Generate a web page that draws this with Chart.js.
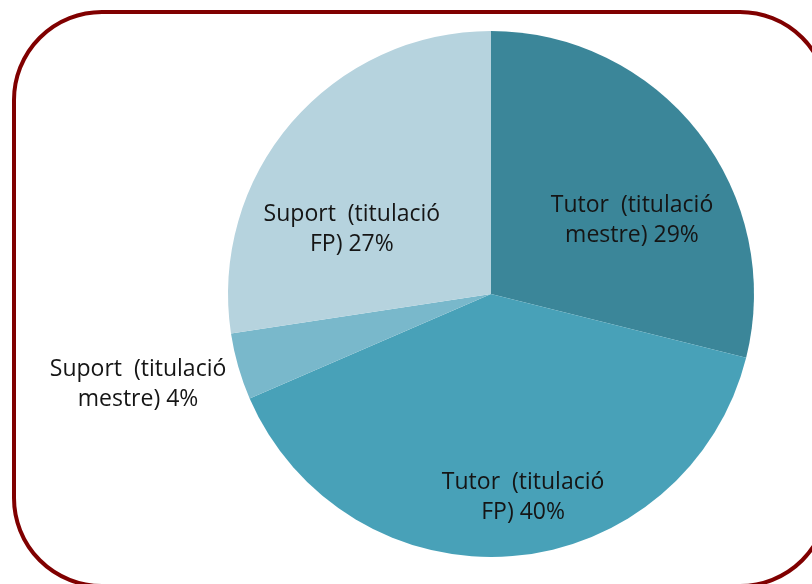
<!DOCTYPE html>
<html>
<head>
<meta charset="utf-8">
<script src="https://cdn.jsdelivr.net/npm/chart.js@4"></script>
<style>
  html, body { margin: 0; padding: 0; background: #fff; }
  #wrap { width: 812px; height: 584px; }
</style>
</head>
<body>
<div id="wrap"><canvas id="pie" width="812" height="584"></canvas></div>
<script>
// data (clockwise from 12 o'clock)
const categories = ['Tutor  (titulació mestre)', 'Tutor  (titulació FP)', 'Suport  (titulació mestre)', 'Suport  (titulació FP)'];
const labelLines = [
  ['Tutor  (titulació', 'mestre) 29%'],
  ['Tutor  (titulació', 'FP) 40%'],
  ['Suport  (titulació', 'mestre) 4%'],
  ['Suport  (titulació', 'FP) 27%']
];
const shares = [28.9, 39.6, 4.1, 27.4];
const colors = ['#3b8699', '#48a1b8', '#79b8cb', '#b6d3de'];

// where each label sits, relative to the pie centre in radius units
const labelPos = [[0.536, -0.253], [0.122, 0.800], [-1.342, 0.367], [-0.529, -0.219]];

const framePlugin = {
  id: 'frame',
  beforeDraw(chart) {
    const ctx = chart.ctx;
    ctx.save();
    ctx.strokeStyle = '#800000';
    ctx.lineWidth = 4;
    ctx.beginPath();
    ctx.roundRect(14, 12, 814, 574, 88);
    ctx.stroke();
    ctx.restore();
  }
};

const labelPlugin = {
  id: 'sliceLabels',
  afterDatasetsDraw(chart) {
    const ctx = chart.ctx;
    const arc = chart.getDatasetMeta(0).data[0];
    const cx = arc.x, cy = arc.y, r = arc.outerRadius;
    ctx.save();
    ctx.font = '23px "Open Sans", "Noto Sans", sans-serif';
    ctx.fillStyle = '#151515';
    ctx.textAlign = 'center';
    ctx.textBaseline = 'alphabetic';
    labelLines.forEach((lines, i) => {
      const x = cx + labelPos[i][0] * r;
      const y = cy + labelPos[i][1] * r;
      ctx.fillText(lines[0], x, y - 15);
      ctx.fillText(lines[1], x, y + 15);
    });
    ctx.restore();
  }
};

new Chart(document.getElementById('pie'), {
  type: 'pie',
  data: {
    labels: categories,
    datasets: [{
      data: shares,
      backgroundColor: colors,
      borderWidth: 0
    }]
  },
  options: {
    responsive: false,
    animation: false,
    layout: { padding: { left: 228, right: 58, top: 31, bottom: 27 } },
    plugins: {
      legend: { display: false },
      tooltip: { enabled: false }
    }
  },
  plugins: [framePlugin, labelPlugin]
});
</script>
</body>
</html>
